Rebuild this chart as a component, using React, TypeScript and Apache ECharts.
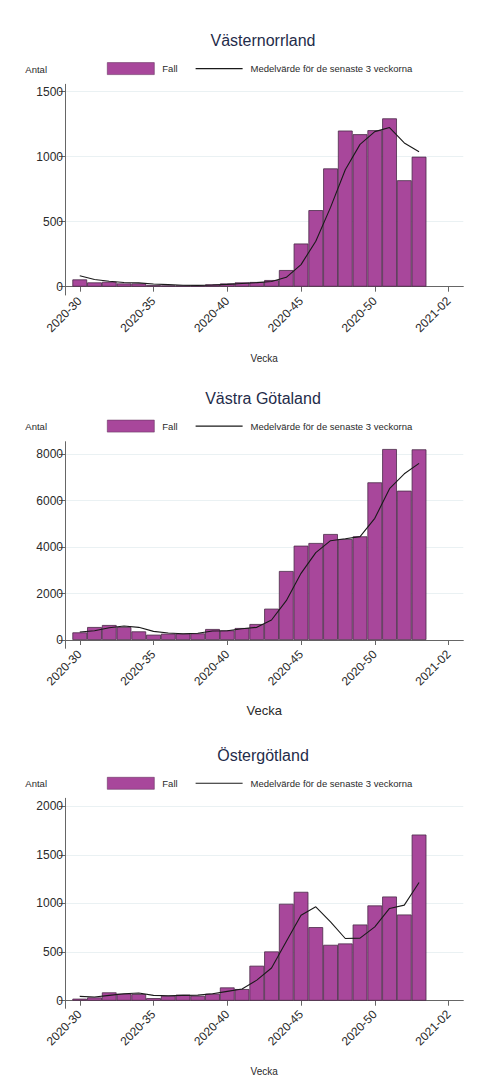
import React, { useEffect, useRef } from "react";
import * as echarts from "echarts";

const weeks = [
  "2020-29", "2020-30", "2020-31", "2020-32", "2020-33", "2020-34", "2020-35", "2020-36",
  "2020-37", "2020-38", "2020-39", "2020-40", "2020-41", "2020-42", "2020-43", "2020-44",
  "2020-45", "2020-46", "2020-47", "2020-48", "2020-49", "2020-50", "2020-51", "2020-52",
  "2020-53", "2021-01", "2021-02", "2021-03",
];
const tickLabels = ["2020-30", "2020-35", "2020-40", "2020-45", "2020-50", "2021-02"];

const titles = ["Västernorrland", "Västra Götaland", "Östergötland"];

// weekly cases, weeks 2020-30 .. 2020-53
const fallVasternorrland = [56, 33, 38, 25, 25, 13, 10, 10, 10, 18, 25, 33, 36, 51, 128, 332, 589, 910, 1201, 1173, 1204, 1295, 819, 1000];
const medelVasternorrland = [84, 55, 42, 32, 29, 21, 16, 11, 10, 13, 18, 25, 31, 40, 72, 170, 350, 610, 900, 1095, 1193, 1224, 1106, 1038];

const fallVastraGotaland = [330, 560, 646, 560, 373, 230, 273, 273, 287, 474, 416, 517, 689, 1350, 2973, 4064, 4179, 4566, 4351, 4466, 6792, 8228, 6433, 8214];
const medelVastraGotaland = [345, 400, 531, 603, 546, 373, 302, 273, 290, 388, 402, 488, 546, 862, 1694, 2872, 3762, 4279, 4365, 4452, 5241, 6519, 7160, 7611];

const fallOstergotland = [21, 34, 86, 72, 68, 27, 51, 62, 51, 72, 137, 120, 360, 507, 997, 1120, 757, 575, 589, 784, 980, 1072, 887, 1709];
const medelOstergotland = [45, 38, 55, 72, 79, 55, 51, 55, 58, 72, 96, 120, 212, 336, 610, 880, 966, 812, 640, 644, 760, 949, 983, 1216];

const yTicks1 = [0, 500, 1000, 1500];
const yTicks2 = [0, 2000, 4000, 6000, 8000];
const yTicks3 = [0, 500, 1000, 1500, 2000];

const FONT = "'Liberation Sans', Arial, sans-serif";
const BAR = "#a8479b";
const BAR_BORDER = "#4a2a47";
const AXIS = "#666666";
const GRIDC = "#eaf1f3";
const TXT = "#2a2a2a";
const LINE = "#1a1a1a";

const pad = (arr: number[]) => [null, ...arr, null, null, null];

export default function App() {
  const ref = useRef<HTMLDivElement>(null);
  useEffect(() => {
    if (!ref.current) return;
    const chart = echarts.init(ref.current, null, { renderer: "svg" });

    const panels = [
      { top: 84.3, height: 210.7, titleTop: 32.5, legendTop: 62.3, min: -64, max: 1557, ticks: yTicks1, fall: fallVasternorrland, medel: medelVasternorrland, veckaSize: 10 },
      { top: 441.7, height: 206.6, titleTop: 390, legendTop: 419.8, min: -357, max: 8543, ticks: yTicks2, fall: fallVastraGotaland, medel: medelVastraGotaland, veckaSize: 13 },
      { top: 798.3, height: 210, titleTop: 747.5, legendTop: 777, min: -78, max: 2082, ticks: yTicks3, fall: fallOstergotland, medel: medelOstergotland, veckaSize: 10 },
    ];

    const showLabel = (idx: number) => tickLabels.indexOf(weeks[idx]) >= 0;

    const option: any = {
      animation: false,
      backgroundColor: "#ffffff",
      title: panels.map((p, i) => ({
        text: titles[i],
        left: 263,
        textAlign: "center",
        top: p.titleTop,
        padding: 0,
        textStyle: { fontFamily: FONT, fontSize: 16, fontWeight: "normal", color: "#1f2c4a" },
      })),
      legend: panels.map((p) => ({
        left: 107,
        top: p.legendTop,
        padding: 0,
        itemWidth: 47,
        itemHeight: 12,
        itemGap: 18,
        selectedMode: false,
        data: [
          { name: "Fall", icon: "rect", itemStyle: { borderWidth: 0.6, borderColor: "#6a3563" } },
          { name: "Medelvärde för de senaste 3 veckorna", icon: "path://M0,0H100V2.4H0Z", itemStyle: { color: LINE } },
        ],
        textStyle: { fontFamily: FONT, fontSize: 9.5, color: TXT, padding: [0, 0, 0, 3] },
      })),
      grid: panels.map((p) => ({ left: 65, width: 398.3, top: p.top, height: p.height })),
      xAxis: panels.map((p, i) => ({
        type: "category",
        gridIndex: i,
        data: weeks,
        boundaryGap: false,
        name: "Vecka",
        nameLocation: "middle",
        nameGap: p.veckaSize > 11 ? 56 : 58,
        nameTextStyle: { fontFamily: FONT, fontSize: p.veckaSize, color: TXT },
        axisLine: { lineStyle: { color: AXIS, width: 1 } },
        axisTick: { interval: (idx: number) => showLabel(idx), length: 5, lineStyle: { color: AXIS } },
        axisLabel: {
          interval: (idx: number) => showLabel(idx),
          rotate: 45,
          margin: 4,
          fontFamily: FONT,
          fontSize: 12,
          color: TXT,
        },
        splitLine: { show: false },
      })),
      yAxis: panels.map((p, i) => ({
        type: "value",
        gridIndex: i,
        min: p.min,
        max: p.max,
        name: "Antal",
        nameLocation: "end",
        nameGap: 10,
        nameTextStyle: { fontFamily: FONT, fontSize: 9.5, color: TXT, align: "right", padding: [0, 18, 0, 0] },
        axisLine: { show: true, lineStyle: { color: AXIS, width: 1 } },
        axisTick: { show: true, length: 6, customValues: p.ticks, lineStyle: { color: AXIS } },
        axisLabel: {
          customValues: p.ticks,
          margin: 2,
          fontFamily: FONT,
          fontSize: 12,
          color: TXT,
          formatter: (v: number) => String(v),
        },
        splitLine: { show: true, lineStyle: { color: GRIDC, width: 1 } },
      })),
      series: panels.flatMap((p, i) => [
        {
          name: "Fall",
          type: "bar",
          xAxisIndex: i,
          yAxisIndex: i,
          data: pad(p.fall),
          barCategoryGap: "0%",
          itemStyle: { color: BAR, borderColor: BAR_BORDER, borderWidth: 0.8 },
        },
        {
          name: "Medelvärde för de senaste 3 veckorna",
          type: "line",
          xAxisIndex: i,
          yAxisIndex: i,
          data: pad(p.medel),
          symbol: "none",
          lineStyle: { color: LINE, width: 1.1 },
          itemStyle: { color: LINE },
        },
      ]),
    };

    chart.setOption(option);
    return () => chart.dispose();
  }, []);

  return (
    <div
      ref={ref}
      style={{ position: "absolute", left: 0, top: 0, width: 486, height: 1081 }}
    />
  );
}
